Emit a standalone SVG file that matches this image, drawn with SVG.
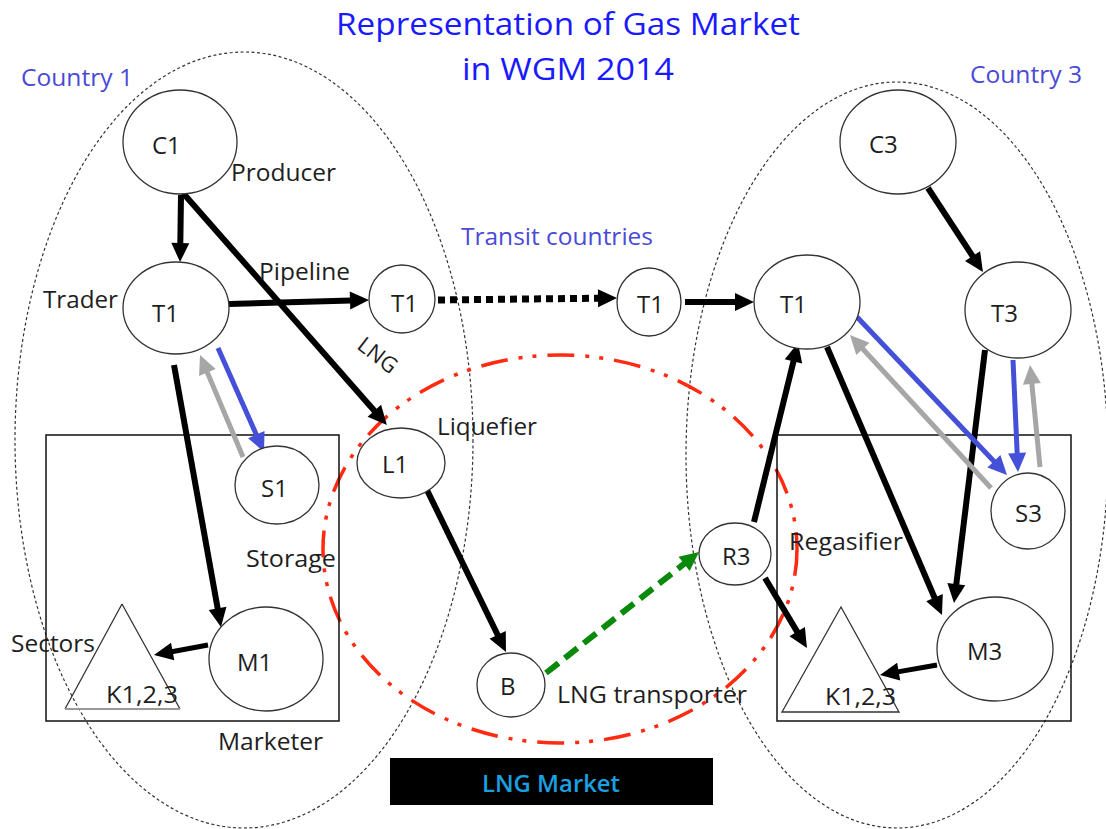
<svg xmlns="http://www.w3.org/2000/svg" width="1106" height="829" viewBox="0 0 1106 829">
<style>
text{font-family:"Open Sans","Liberation Sans",sans-serif;}
.title{font-size:31px;fill:#1a1aff;}
.blue{font-size:24px;fill:#4a4ad6;}
.lbl{font-size:24px;fill:#1e1e1e;}
.nl{font-size:24px;fill:#1e1e1e;}
.node{fill:#fff;stroke:#333;stroke-width:1.3;}
.country{fill:none;stroke:#333;stroke-width:1.2;stroke-dasharray:3 2.5;}
.box{fill:none;stroke:#111;stroke-width:1.5;}
.tri{fill:none;stroke:#333;stroke-width:1.3;}
.k{fill:none;stroke:#000;stroke-width:6;marker-end:url(#ah-k);}
.b{fill:none;stroke:#4450d8;stroke-width:5;marker-end:url(#ah-b);}
.g{fill:none;stroke:#a6a6a6;stroke-width:5;marker-end:url(#ah-g);}
</style>
<defs>
<marker id="ah-k" viewBox="-2 -10 22 20" refX="0" refY="0" markerWidth="22" markerHeight="20" markerUnits="userSpaceOnUse" orient="auto"><path d="M-1,-9 L18,0 L-1,9 z" fill="#000"/></marker>
<marker id="ah-b" viewBox="-2 -10 22 20" refX="0" refY="0" markerWidth="22" markerHeight="20" markerUnits="userSpaceOnUse" orient="auto"><path d="M-1,-9 L18,0 L-1,9 z" fill="#4450d8"/></marker>
<marker id="ah-g" viewBox="-2 -10 22 20" refX="0" refY="0" markerWidth="22" markerHeight="20" markerUnits="userSpaceOnUse" orient="auto"><path d="M-1,-9 L18,0 L-1,9 z" fill="#a6a6a6"/></marker>
<marker id="ah-gr" viewBox="-2 -10 22 20" refX="0" refY="0" markerWidth="22" markerHeight="20" markerUnits="userSpaceOnUse" orient="auto"><path d="M-1,-9 L18,0 L-1,9 z" fill="#0a8a0a"/></marker>
</defs>
<rect width="1106" height="829" fill="#fff"/>

<g id="title">
<text class="title" x="336" y="35" textLength="464" lengthAdjust="spacingAndGlyphs">Representation of Gas Market</text>
<text class="title" x="462" y="80" textLength="212" lengthAdjust="spacingAndGlyphs">in WGM 2014</text>
</g>

<g id="regions">
<ellipse class="country" cx="244" cy="440" rx="229" ry="388"/>
<ellipse class="country" cx="897" cy="455" rx="211" ry="373"/>
<ellipse cx="560" cy="549" rx="237" ry="194" fill="none" stroke="#ff2a10" stroke-width="3.5" stroke-dasharray="27 11 4 10 4 11"/>
<rect class="box" x="46" y="435" width="293" height="286"/>
<rect class="box" x="777" y="435" width="294" height="286"/>
<text class="blue" x="21" y="86" textLength="112" lengthAdjust="spacingAndGlyphs">Country 1</text>
<text class="blue" x="970" y="83" textLength="112" lengthAdjust="spacingAndGlyphs">Country 3</text>
<text class="blue" x="461" y="245" textLength="192" lengthAdjust="spacingAndGlyphs">Transit countries</text>
</g>

<g id="connectors">
<path class="k" d="M181,195 L180.3,244"/>
<path class="k" d="M183,193 L375,411.5"/>
<path class="k" d="M229,304 L351,300.5"/>
<path fill="none" stroke="#000" stroke-width="7" stroke-dasharray="7 5" marker-end="url(#ah-k)" d="M438,300 L599,298.2"/>
<path class="k" d="M685,302 L736,302"/>
<path class="k" d="M928,188 L973.1,256.9"/>
<path class="k" d="M174,365 L217.8,609.3"/>
<path class="b" d="M218,348 L256.7,435.5"/>
<path class="g" d="M243,457 L207,371.6"/>
<path class="k" style="stroke-width:5" d="M208,645 L171.7,651.7"/>
<path class="k" d="M427,490 L498.1,635.8"/>
<path fill="none" stroke="#0a8a0a" stroke-width="6" stroke-dasharray="16 8" marker-end="url(#ah-gr)" d="M546,673 L684.9,563.2"/>
<path class="k" d="M754,522 L793.7,360.5"/>
<path class="k" d="M765,578 L797.7,632.6"/>
<path class="k" d="M827,347 L934.9,598.5"/>
<path class="k" d="M985,350 L956.2,585.1"/>
<path class="b" d="M857,317 L994.6,462"/>
<path class="g" d="M991,488 L862.2,348.2"/>
<path class="b" d="M1013,360 L1017.2,454"/>
<path class="g" d="M1040,467 L1031.8,382.9"/>
<path class="k" style="stroke-width:5" d="M937,665 L897.7,671.9"/>
<text class="lbl" transform="translate(378,355) rotate(38)" x="-22" y="8" style="font-size:22px">LNG</text>
<text class="lbl" x="259" y="280" textLength="91" lengthAdjust="spacingAndGlyphs">Pipeline</text>
</g>

<g id="C1"><ellipse class="node" cx="180" cy="142" rx="57" ry="52"/><text class="nl" x="152" y="154">C1</text><text class="lbl" x="231" y="181" textLength="105" lengthAdjust="spacingAndGlyphs">Producer</text></g>
<g id="T1-c1"><ellipse class="node" cx="176" cy="308" rx="53" ry="46"/><text class="nl" x="152" y="322">T1</text><text class="lbl" x="43" y="308" textLength="75" lengthAdjust="spacingAndGlyphs">Trader</text></g>
<g id="T1-transit-a"><ellipse class="node" cx="402" cy="299" rx="33" ry="34"/><text class="nl" x="391" y="312">T1</text></g>
<g id="T1-transit-b"><ellipse class="node" cx="649" cy="302" rx="32" ry="34"/><text class="nl" x="637" y="313">T1</text></g>
<g id="S1"><ellipse class="node" cx="277" cy="485" rx="42" ry="39"/><text class="nl" x="261" y="497">S1</text><text class="lbl" x="246" y="567" textLength="90" lengthAdjust="spacingAndGlyphs">Storage</text></g>
<g id="M1"><ellipse class="node" cx="266" cy="659" rx="57" ry="52"/><text class="nl" x="237" y="671">M1</text><text class="lbl" x="218" y="750" textLength="105" lengthAdjust="spacingAndGlyphs">Marketer</text></g>
<g id="K-c1"><path class="tri" d="M122,604 L65,709 M122,604 L180,709"/><path d="M65,709 L180,709" stroke="#999" stroke-width="2"/><text class="nl" x="106" y="703" textLength="72" lengthAdjust="spacingAndGlyphs">K1,2,3</text><text class="lbl" x="11" y="652" textLength="84" lengthAdjust="spacingAndGlyphs">Sectors</text></g>
<g id="L1"><ellipse class="node" cx="401" cy="463" rx="44" ry="35"/><text class="nl" x="382" y="473">L1</text><text class="lbl" x="437" y="435" textLength="100" lengthAdjust="spacingAndGlyphs">Liquefier</text></g>
<g id="B"><ellipse class="node" cx="511" cy="685" rx="34" ry="32"/><text class="nl" x="500" y="695">B</text><text class="lbl" x="557" y="703" textLength="190" lengthAdjust="spacingAndGlyphs">LNG transporter</text></g>
<g id="C3"><ellipse class="node" cx="898" cy="142" rx="58" ry="52"/><text class="nl" x="869" y="153">C3</text></g>
<g id="T1-c3"><ellipse class="node" cx="807" cy="302" rx="53" ry="47"/><text class="nl" x="780" y="313">T1</text></g>
<g id="T3"><ellipse class="node" cx="1018" cy="310" rx="53" ry="48"/><text class="nl" x="991" y="322">T3</text></g>
<g id="S3"><ellipse class="node" cx="1028" cy="511" rx="37" ry="38"/><text class="nl" x="1015" y="522">S3</text></g>
<g id="R3"><ellipse class="node" cx="735" cy="554" rx="36" ry="31"/><text class="nl" x="722" y="565">R3</text><text class="lbl" x="789" y="550" textLength="114" lengthAdjust="spacingAndGlyphs">Regasifier</text></g>
<g id="M3"><ellipse class="node" cx="995" cy="649" rx="58" ry="52"/><text class="nl" x="967" y="660">M3</text></g>
<g id="K-c3"><path class="tri" d="M841,607 L782,712 L899,712 Z"/><text class="nl" x="825" y="705" textLength="71" lengthAdjust="spacingAndGlyphs">K1,2,3</text></g>
<g id="lng-market"><rect x="390" y="758" width="323" height="47" fill="#000"/><text x="482" y="792" style="font-size:24px;font-weight:600;fill:#1aa0e0" textLength="138" lengthAdjust="spacingAndGlyphs">LNG Market</text></g>
</svg>
